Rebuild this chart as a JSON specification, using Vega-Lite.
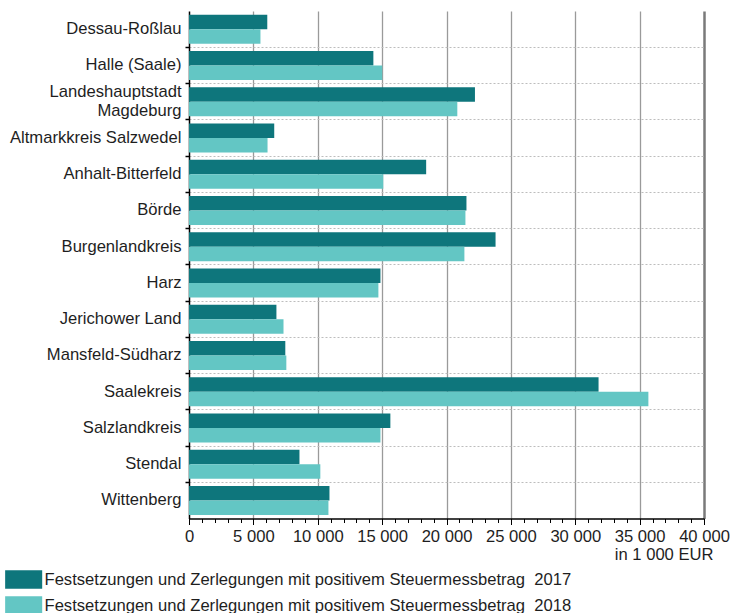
{
  "$schema": "https://vega.github.io/schema/vega-lite/v6.json",
  "autosize": {"type": "none"},
  "padding": {"left": 189, "top": 11, "right": 31, "bottom": 94.5},
  "width": 515,
  "height": 507.5,
  "background": "white",
  "config": {
    "view": {"stroke": null},
    "font": "Liberation Sans",
    "axis": {"labelFont": "Liberation Sans", "titleFont": "Liberation Sans"},
    "legend": {"labelFont": "Liberation Sans"}
  },
  "data": {
    "values": [
      {"Kreis": "Dessau-Roßlau", "Jahr": "2017", "Wert": 6080},
      {"Kreis": "Dessau-Roßlau", "Jahr": "2018", "Wert": 5550},
      {"Kreis": "Halle (Saale)", "Jahr": "2017", "Wert": 14320},
      {"Kreis": "Halle (Saale)", "Jahr": "2018", "Wert": 15010},
      {"Kreis": "Landeshauptstadt Magdeburg", "Jahr": "2017", "Wert": 22210},
      {"Kreis": "Landeshauptstadt Magdeburg", "Jahr": "2018", "Wert": 20840},
      {"Kreis": "Altmarkkreis Salzwedel", "Jahr": "2017", "Wert": 6620},
      {"Kreis": "Altmarkkreis Salzwedel", "Jahr": "2018", "Wert": 6100},
      {"Kreis": "Anhalt-Bitterfeld", "Jahr": "2017", "Wert": 18420},
      {"Kreis": "Anhalt-Bitterfeld", "Jahr": "2018", "Wert": 15090},
      {"Kreis": "Börde", "Jahr": "2017", "Wert": 21550},
      {"Kreis": "Börde", "Jahr": "2018", "Wert": 21470},
      {"Kreis": "Burgenlandkreis", "Jahr": "2017", "Wert": 23810},
      {"Kreis": "Burgenlandkreis", "Jahr": "2018", "Wert": 21390},
      {"Kreis": "Harz", "Jahr": "2017", "Wert": 14870},
      {"Kreis": "Harz", "Jahr": "2018", "Wert": 14710},
      {"Kreis": "Jerichower Land", "Jahr": "2017", "Wert": 6790},
      {"Kreis": "Jerichower Land", "Jahr": "2018", "Wert": 7340},
      {"Kreis": "Mansfeld-Südharz", "Jahr": "2017", "Wert": 7480},
      {"Kreis": "Mansfeld-Südharz", "Jahr": "2018", "Wert": 7560},
      {"Kreis": "Saalekreis", "Jahr": "2017", "Wert": 31810},
      {"Kreis": "Saalekreis", "Jahr": "2018", "Wert": 35680},
      {"Kreis": "Salzlandkreis", "Jahr": "2017", "Wert": 15640},
      {"Kreis": "Salzlandkreis", "Jahr": "2018", "Wert": 14870},
      {"Kreis": "Stendal", "Jahr": "2017", "Wert": 8580},
      {"Kreis": "Stendal", "Jahr": "2018", "Wert": 10200},
      {"Kreis": "Wittenberg", "Jahr": "2017", "Wert": 10910},
      {"Kreis": "Wittenberg", "Jahr": "2018", "Wert": 10830}
    ]
  },
  "layer": [
    {
      "mark": {"type": "bar"},
      "encoding": {
        "y": {
          "field": "Kreis",
          "type": "nominal",
          "sort": null,
          "scale": {"paddingInner": 0, "paddingOuter": 0},
          "axis": {
            "title": null,
            "bandPosition": 0,
            "domainColor": "#000000",
            "domainWidth": 1.5,
            "tickColor": "#000000",
            "tickSize": 4,
            "tickWidth": 1.5,
            "tickOpacity": {"condition": {"test": "datum.value === 'Dessau-Roßlau'", "value": 0}, "value": 1},
            "grid": true,
            "gridColor": "#bdbdbd",
            "gridDash": [2, 2],
            "gridWidth": 1,
            "gridOpacity": {"condition": {"test": "datum.value === 'Dessau-Roßlau'", "value": 0}, "value": 1},
            "labelFontSize": 16.6,
            "labelColor": "#1e1e1e",
            "labelPadding": 4,
            "labelLineHeight": 19,
            "labelLimit": 300,
            "labelOffset": {"condition": {"test": "datum.value === 'Landeshauptstadt Magdeburg'", "value": -9.5}, "value": 0},
            "labelExpr": "datum.value === 'Landeshauptstadt Magdeburg' ? ['Landeshauptstadt', 'Magdeburg'] : datum.value"
          }
        },
        "yOffset": {
          "field": "Jahr",
          "type": "nominal",
          "scale": {"paddingInner": 0, "paddingOuter": 0.25}
        },
        "x": {
          "field": "Wert",
          "type": "quantitative",
          "scale": {"domain": [0, 40000], "nice": false},
          "axis": {
            "values": [0,1000,2000,3000,4000,5000,6000,7000,8000,9000,10000,11000,12000,13000,14000,15000,16000,17000,18000,19000,20000,21000,22000,23000,24000,25000,26000,27000,28000,29000,30000,31000,32000,33000,34000,35000,36000,37000,38000,39000,40000],
            "labelExpr": "datum.value % 5000 === 0 ? replace(format(datum.value, ','), ',', ' ') : ''",
            "labelOverlap": false,
            "labelFlush": false,
            "labelFontSize": 16.6,
            "labelColor": "#1e1e1e",
            "labelPadding": 4,
            "domainColor": "#000000",
            "domainWidth": 1.5,
            "tickColor": "#000000",
            "tickWidth": 1,
            "tickSize": {"condition": {"test": "datum.value % 5000 === 0", "value": 6}, "value": 4},
            "grid": true,
            "gridColor": {"condition": {"test": "datum.value === 40000", "value": "#7a7a7a"}, "value": "#9a9a9a"},
            "gridWidth": {"condition": {"test": "datum.value === 40000", "value": 2.5}, "value": 1.3},
            "gridOpacity": {"condition": {"test": "datum.value % 5000 === 0 && datum.value > 0", "value": 1}, "value": 0},
            "title": "in 1 000 EUR",
            "titleFontSize": 16.6,
            "titleFontWeight": "normal",
            "titleColor": "#1e1e1e",
            "titleAnchor": "end",
            "titleAlign": "right",
            "titleBaseline": "alphabetic",
            "titleX": 524,
            "titleY": 41
          }
        },
        "color": {
          "field": "Jahr",
          "type": "nominal",
          "scale": {"domain": ["2017", "2018"], "range": ["#0e767c", "#63c6c4"]},
          "legend": {
            "title": null,
            "orient": "none",
            "legendX": -184,
            "legendY": 559,
            "direction": "vertical",
            "padding": 0,
            "symbolType": "M-1,-1H2.96V1H-1Z",
            "symbolSize": 350,
            "symbolStrokeWidth": 0,
            "symbolOpacity": 1,
            "labelOffset": 20.5,
            "rowPadding": 7,
            "labelFontSize": 16.6,
            "labelColor": "#1e1e1e",
            "labelLimit": 700,
            "labelExpr": "'Festsetzungen und Zerlegungen mit positivem Steuermessbetrag\u00a0\u00a0' + datum.label"
          }
        }
      }
    }
  ]
}
